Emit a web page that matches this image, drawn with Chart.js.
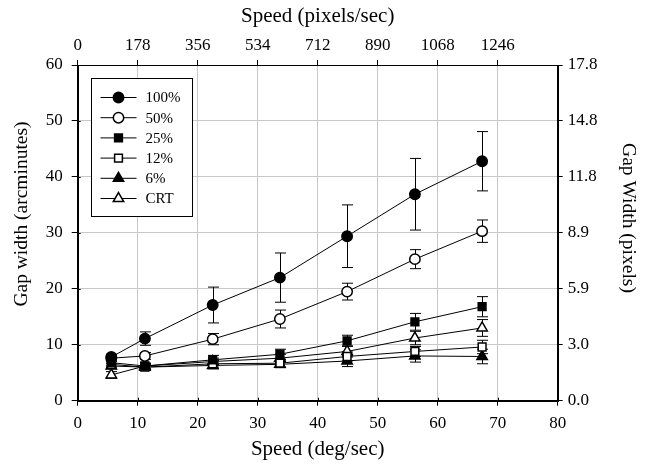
<!DOCTYPE html>
<html>
<head>
<meta charset="utf-8">
<script src="https://cdn.jsdelivr.net/npm/chart.js@4/dist/chart.umd.min.js"></script>
<style>
  html, body { margin: 0; padding: 0; background: #fff; }
  canvas { display: block; }
</style>
</head>
<body>
<canvas id="gapChart" width="647" height="467"></canvas>
<script>
// speeds (deg/sec) where each condition was measured
const speeds = [5.6, 11.2, 22.5, 33.7, 44.9, 56.2, 67.4];

// gap width (arcminutes) per condition + half-length of the error bars
const gap100 = [7.8, 11.1, 17.1, 22.0, 29.4, 36.9, 42.8];
const err100 = [0.5, 1.2, 3.2, 4.4, 5.6, 6.4, 5.3];
const gap50 = [7.6, 8.0, 11.0, 14.6, 19.5, 25.3, 30.3];
const err50 = [0.5, 0.6, 1.0, 1.6, 1.5, 1.7, 2.0];
const gap25 = [6.8, 6.2, 7.3, 8.3, 10.7, 14.1, 16.8];
const err25 = [0.6, 0.5, 0.8, 0.9, 1.0, 1.5, 1.8];
const gap12 = [6.5, 6.0, 6.6, 6.7, 7.9, 8.8, 9.6];
const err12 = [0.5, 0.5, 0.6, 0.7, 0.8, 0.9, 1.2];
const gap6 = [6.2, 6.0, 6.3, 6.5, 7.1, 8.0, 7.9];
const err6 = [0.5, 0.5, 0.6, 0.6, 1.0, 1.1, 1.3];
const gapCRT = [4.6, 6.2, 7.0, 7.6, 8.8, 11.2, 13.0];
const errCRT = [0.6, 0.5, 0.6, 0.7, 1.0, 1.2, 1.5];

const seriesNames = ['100%', '50%', '25%', '12%', '6%', 'CRT'];

// secondary axis labels
const topLabels = ['0', '178', '356', '534', '712', '890', '1068', '1246'];
const rightLabels = ['0.0', '3.0', '5.9', '8.9', '11.8', '14.8', '17.8'];

const FONT = "'Liberation Serif', 'Times New Roman', serif";

// marker look per series
const styles = [
  { shape: 'circle', fill: '#000', r: 5.2 },
  { shape: 'circle', fill: '#fff', r: 5.2 },
  { shape: 'rect', fill: '#000', r: 5.5 },
  { shape: 'rect', fill: '#fff', r: 5.5 },
  { shape: 'triangle', fill: '#000', r: 6 },
  { shape: 'triangle', fill: '#fff', r: 6 }
];

const values = [gap100, gap50, gap25, gap12, gap6, gapCRT];
const errors = [err100, err50, err25, err12, err6, errCRT];

const datasets = values.map((vals, i) => ({
  label: seriesNames[i],
  data: vals.map((v, j) => ({ x: speeds[j], y: v })),
  errors: errors[i],
  borderColor: '#000',
  borderWidth: 1,
  pointStyle: styles[i].shape,
  pointRadius: styles[i].r,
  pointHoverRadius: styles[i].r,
  pointBackgroundColor: styles[i].fill,
  pointBorderColor: '#000',
  pointBorderWidth: 1.5,
  tension: 0,
  fill: false
}));

// error bars, frame and inner tick marks, drawn under the markers
const errorBars = {
  id: 'errorBars',
  beforeDatasetsDraw(chart) {
    const ctx = chart.ctx;
    const xs = chart.scales.x, ys = chart.scales.y;
    const a = chart.chartArea;
    ctx.save();
    ctx.strokeStyle = '#000';
    ctx.lineWidth = 1;
    chart.data.datasets.forEach(ds => {
      ds.data.forEach((p, j) => {
        const e = ds.errors[j];
        const px = Math.round(xs.getPixelForValue(p.x)) + 0.5;
        const yt = ys.getPixelForValue(p.y + e);
        const yb = ys.getPixelForValue(p.y - e);
        ctx.beginPath();
        ctx.moveTo(px, yt); ctx.lineTo(px, yb);
        ctx.moveTo(px - 5.5, yt); ctx.lineTo(px + 5.5, yt);
        ctx.moveTo(px - 5.5, yb); ctx.lineTo(px + 5.5, yb);
        ctx.stroke();
      });
    });
    ctx.strokeRect(Math.round(a.left) + 0.5, Math.round(a.top) + 0.5,
      Math.round(a.right - a.left), Math.round(a.bottom - a.top));
    // ticks cross the left and bottom axes
    ctx.beginPath();
    xs.ticks.forEach(t => {
      const px = Math.round(xs.getPixelForValue(t.value)) + 0.5;
      ctx.moveTo(px, a.bottom); ctx.lineTo(px, a.bottom - 3);
    });
    ys.ticks.forEach(t => {
      const py = Math.round(ys.getPixelForValue(t.value)) + 0.5;
      ctx.moveTo(a.left, py); ctx.lineTo(a.left + 3, py);
    });
    ctx.stroke();
    ctx.restore();
  }
};

// vertical axis titles (placed as in the original figure)
const sideTitles = {
  id: 'sideTitles',
  afterDraw(chart) {
    const ctx = chart.ctx;
    ctx.save();
    ctx.fillStyle = '#000';
    ctx.font = '19.5px ' + FONT;
    ctx.textAlign = 'center';
    ctx.textBaseline = 'middle';
    ctx.translate(22, 214);
    ctx.rotate(-Math.PI / 2);
    ctx.fillText('Gap width (arcminutes)', 0, 0);
    ctx.restore();
    ctx.save();
    ctx.fillStyle = '#000';
    ctx.font = '19.5px ' + FONT;
    ctx.textAlign = 'center';
    ctx.textBaseline = 'middle';
    ctx.translate(628, 218);
    ctx.rotate(Math.PI / 2);
    ctx.fillText('Gap Width (pixels)', 0, 0);
    ctx.restore();
  }
};

function drawMarker(ctx, st, x, y) {
  ctx.beginPath();
  if (st.shape === 'circle') {
    ctx.arc(x, y, st.r, 0, Math.PI * 2);
  } else if (st.shape === 'rect') {
    const h = st.r * Math.SQRT1_2;
    ctx.rect(x - h, y - h, 2 * h, 2 * h);
  } else {
    const r = st.r;
    ctx.moveTo(x, y - r);
    ctx.lineTo(x + r * Math.sin(Math.PI * 2 / 3), y - r * Math.cos(Math.PI * 2 / 3));
    ctx.lineTo(x + r * Math.sin(Math.PI * 4 / 3), y - r * Math.cos(Math.PI * 4 / 3));
    ctx.closePath();
  }
  ctx.fillStyle = st.fill;
  ctx.fill();
  ctx.lineWidth = 1.5;
  ctx.strokeStyle = '#000';
  ctx.stroke();
}

// legend box in the top-left corner of the plot
const boxLegend = {
  id: 'boxLegend',
  afterDatasetsDraw(chart) {
    const ctx = chart.ctx;
    const a = chart.chartArea;
    const bx = Math.round(a.left + 13) + 0.5;
    const by = Math.round(a.top + 13) + 0.5;
    const bw = 101, bh = 138;
    ctx.save();
    ctx.fillStyle = '#fff';
    ctx.fillRect(bx, by, bw, bh);
    ctx.strokeStyle = '#000';
    ctx.lineWidth = 1;
    ctx.strokeRect(bx, by, bw, bh);
    ctx.font = '15px ' + FONT;
    ctx.textBaseline = 'middle';
    chart.data.datasets.forEach((ds, i) => {
      const cy = by + 19 + i * 20.2;
      ctx.beginPath();
      ctx.strokeStyle = '#000';
      ctx.lineWidth = 1;
      ctx.moveTo(bx + 9, cy); ctx.lineTo(bx + 45, cy);
      ctx.stroke();
      drawMarker(ctx, styles[i], bx + 27, cy);
      ctx.fillStyle = '#000';
      ctx.fillText(ds.label, bx + 54, cy + 1);
    });
    ctx.restore();
  }
};

const tickFont = { family: FONT, size: 17 };
const titleFont = { family: FONT, size: 21 };

new Chart(document.getElementById('gapChart'), {
  type: 'line',
  data: { datasets },
  plugins: [errorBars, boxLegend, sideTitles],
  options: {
    responsive: false,
    animation: false,
    layout: { padding: 0 },
    plugins: { legend: { display: false }, tooltip: { enabled: false } },
    scales: {
      x: {
        type: 'linear', position: 'bottom', min: 0, max: 80,
        ticks: { stepSize: 10, color: '#000', font: tickFont, padding: 8, maxRotation: 0 },
        grid: { color: '#c8c8c8', tickColor: '#000', tickLength: 5 },
        border: { color: '#000' },
        title: { display: true, text: 'Speed (deg/sec)', color: '#000', font: titleFont, padding: { top: 0, bottom: 5 } },
        afterFit: s => { s.height = 66.3; }
      },
      x2: {
        type: 'linear', position: 'top', min: 0, max: 80,
        ticks: {
          stepSize: 10, color: '#000', font: tickFont, padding: 4, maxRotation: 0,
          callback: v => topLabels[Math.round(v / 10)] ?? ''
        },
        afterBuildTicks: s => { s.ticks = s.ticks.filter(t => t.value < 80); },
        grid: { drawOnChartArea: false, tickColor: '#000', tickLength: 5 },
        border: { color: '#000' },
        title: { display: true, text: 'Speed (pixels/sec)', color: '#000', font: titleFont, padding: { top: 3.5, bottom: 0 } },
        afterFit: s => { s.height = 65; }
      },
      y: {
        type: 'linear', position: 'left', min: 0, max: 60,
        ticks: { stepSize: 10, color: '#000', font: tickFont, padding: 9 },
        grid: { color: '#c8c8c8', tickColor: '#000', tickLength: 6 },
        border: { color: '#000' },
        title: { display: false },
        afterFit: s => { s.width = 77.7; }
      },
      y2: {
        type: 'linear', position: 'right', min: 0, max: 60,
        ticks: {
          stepSize: 10, color: '#000', font: tickFont, padding: 5,
          callback: v => rightLabels[Math.round(v / 10)] ?? ''
        },
        grid: { drawOnChartArea: false, tickColor: '#000', tickLength: 5 },
        border: { color: '#000' },
        title: { display: false },
        afterFit: s => { s.width = 89.3; }
      }
    }
  }
});
</script>
</body>
</html>
